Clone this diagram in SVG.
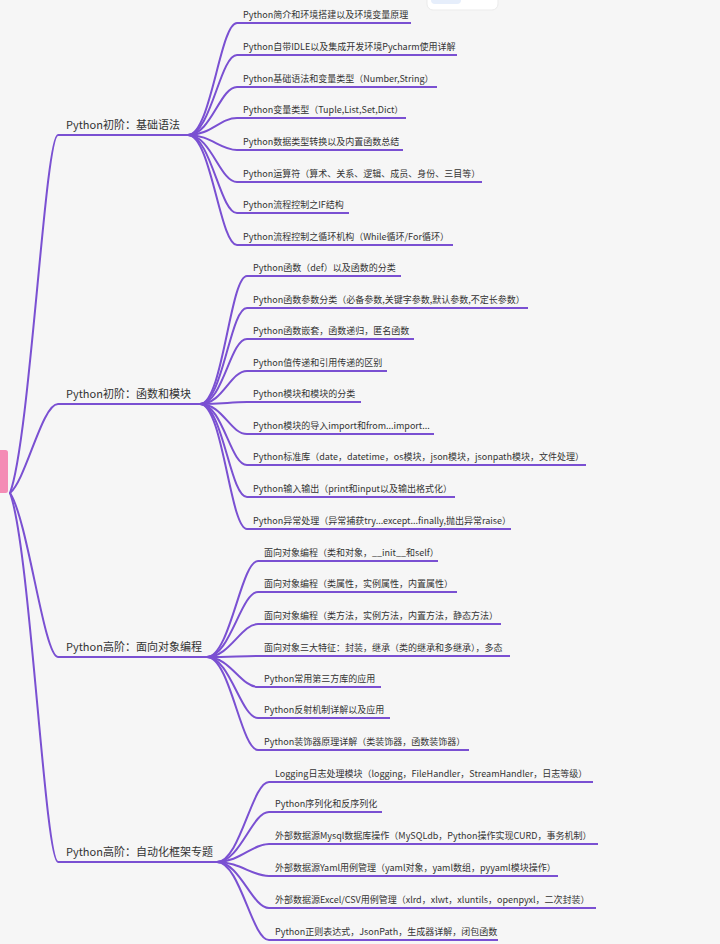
<svg xmlns="http://www.w3.org/2000/svg" width="720" height="944" viewBox="0 0 720 944">
<style>
.bg{fill:#f6f6f6}
.ln{fill:none;stroke:#7a50d2;stroke-width:2;stroke-linecap:round}
.ul{fill:none;stroke:#7a50d2;stroke-width:2}
.m{font-family:"Noto Sans CJK SC","Noto Sans",sans-serif;font-size:11px;fill:#333}
.c{font-family:"Noto Sans CJK SC","Noto Sans",sans-serif;font-size:9px;fill:#333}
</style>
<rect class="bg" x="0" y="0" width="720" height="944"/>
<g id="topcard">
<rect x="427" y="-8" width="71" height="18" rx="6" fill="#ffffff" stroke="#ebebeb"/>
<rect x="431" y="-6" width="30" height="10" rx="4" fill="#e6eefb"/>
</g>
<g id="connectors">
<path class="ln" d="M10,493 C30,440 45,135 58,135"/>
<path class="ln" d="M10,493 C26,480 42,404 58,404"/>
<path class="ln" d="M10,493 C28,520 44,657 58,657"/>
<path class="ln" d="M10,493 C30,546 45,862 58,862"/>
<path class="ln" d="M188,135 C211,135 220,23 237,23"/>
<path class="ln" d="M188,135 C211,135 220,55 237,55"/>
<path class="ln" d="M188,135 C211,135 220,87 237,87"/>
<path class="ln" d="M188,135 C211,135 220,118 237,118"/>
<path class="ln" d="M188,135 C211,135 220,150 237,150"/>
<path class="ln" d="M188,135 C211,135 220,182 237,182"/>
<path class="ln" d="M188,135 C211,135 220,213 237,213"/>
<path class="ln" d="M188,135 C211,135 220,245 237,245"/>
<path class="ln" d="M200,404 C223,404 230,276 247,276"/>
<path class="ln" d="M200,404 C223,404 230,308 247,308"/>
<path class="ln" d="M200,404 C223,404 230,339 247,339"/>
<path class="ln" d="M200,404 C223,404 230,371 247,371"/>
<path class="ln" d="M200,404 C223,404 230,402 247,402"/>
<path class="ln" d="M200,404 C223,404 230,434 247,434"/>
<path class="ln" d="M200,404 C223,404 230,465 247,465"/>
<path class="ln" d="M200,404 C223,404 230,497 247,497"/>
<path class="ln" d="M200,404 C223,404 230,529 247,529"/>
<path class="ln" d="M207,657 C230,657 241,561 258,561"/>
<path class="ln" d="M207,657 C230,657 241,592 258,592"/>
<path class="ln" d="M207,657 C230,657 241,624 258,624"/>
<path class="ln" d="M207,657 C230,657 241,656 258,656"/>
<path class="ln" d="M207,657 C230,657 241,687 258,687"/>
<path class="ln" d="M207,657 C230,657 241,718 258,718"/>
<path class="ln" d="M207,657 C230,657 241,750 258,750"/>
<path class="ln" d="M217,862 C240,862 252,782 269,782"/>
<path class="ln" d="M217,862 C240,862 252,812 269,812"/>
<path class="ln" d="M217,862 C240,862 252,844 269,844"/>
<path class="ln" d="M217,862 C240,862 252,876 269,876"/>
<path class="ln" d="M217,862 C240,862 252,908 269,908"/>
<path class="ln" d="M217,862 C240,862 252,940 269,940"/>
</g>
<g id="root">
<rect x="-4" y="450" width="12" height="43" rx="2.5" fill="#f48cb5"/>
</g>
<g id="main1"><path class="ul" d="M58,135 H188"/><text class="m" x="66" y="129">Python初阶：基础语法</text></g>
<g id="main2"><path class="ul" d="M58,404 H200"/><text class="m" x="66" y="398">Python初阶：函数和模块</text></g>
<g id="main3"><path class="ul" d="M58,657 H207"/><text class="m" x="66" y="651">Python高阶：面向对象编程</text></g>
<g id="main4"><path class="ul" d="M58,862 H217"/><text class="m" x="66" y="856">Python高阶：自动化框架专题</text></g>

<g id="n1-1"><path class="ul" d="M237,23 H411"/><text class="c" x="243" y="18">Python简介和环境搭建以及环境变量原理</text></g>
<g id="n1-2"><path class="ul" d="M237,55 H457"/><text class="c" x="243" y="50">Python自带IDLE以及集成开发环境Pycharm使用详解</text></g>
<g id="n1-3"><path class="ul" d="M237,87 H437"/><text class="c" x="243" y="82">Python基础语法和变量类型（Number,String）</text></g>
<g id="n1-4"><path class="ul" d="M237,118 H406"/><text class="c" x="243" y="113">Python变量类型（Tuple,List,Set,Dict）</text></g>
<g id="n1-5"><path class="ul" d="M237,150 H403"/><text class="c" x="243" y="145">Python数据类型转换以及内置函数总结</text></g>
<g id="n1-6"><path class="ul" d="M237,182 H482"/><text class="c" x="243" y="177">Python运算符（算术、关系、逻辑、成员、身份、三目等）</text></g>
<g id="n1-7"><path class="ul" d="M237,213 H349"/><text class="c" x="243" y="208">Python流程控制之IF结构</text></g>
<g id="n1-8"><path class="ul" d="M237,245 H453"/><text class="c" x="243" y="240">Python流程控制之循环机构（While循环/For循环）</text></g>

<g id="n2-1"><path class="ul" d="M247,276 H401"/><text class="c" x="253" y="271">Python函数（def）以及函数的分类</text></g>
<g id="n2-2"><path class="ul" d="M247,308 H528"/><text class="c" x="253" y="303">Python函数参数分类（必备参数,关键字参数,默认参数,不定长参数）</text></g>
<g id="n2-3"><path class="ul" d="M247,339 H414"/><text class="c" x="253" y="334">Python函数嵌套，函数递归，匿名函数</text></g>
<g id="n2-4"><path class="ul" d="M247,371 H387"/><text class="c" x="253" y="366">Python值传递和引用传递的区别</text></g>
<g id="n2-5"><path class="ul" d="M247,402 H361"/><text class="c" x="253" y="397">Python模块和模块的分类</text></g>
<g id="n2-6"><path class="ul" d="M247,434 H434"/><text class="c" x="253" y="429">Python模块的导入import和from...import...</text></g>
<g id="n2-7"><path class="ul" d="M247,465 H586"/><text class="c" x="253" y="460">Python标准库（date，datetime，os模块，json模块，jsonpath模块，文件处理）</text></g>
<g id="n2-8"><path class="ul" d="M247,497 H455"/><text class="c" x="253" y="492">Python输入输出（print和input以及输出格式化）</text></g>
<g id="n2-9"><path class="ul" d="M247,529 H511"/><text class="c" x="253" y="524">Python异常处理（异常捕获try...except...finally,抛出异常raise）</text></g>

<g id="n3-1"><path class="ul" d="M258,561 H438"/><text class="c" x="264" y="556">面向对象编程（类和对象，__init__和self）</text></g>
<g id="n3-2"><path class="ul" d="M258,592 H457"/><text class="c" x="264" y="587">面向对象编程（类属性，实例属性，内置属性）</text></g>
<g id="n3-3"><path class="ul" d="M258,624 H501"/><text class="c" x="264" y="619">面向对象编程（类方法，实例方法，内置方法，静态方法）</text></g>
<g id="n3-4"><path class="ul" d="M258,656 H510"/><text class="c" x="264" y="651">面向对象三大特征：封装，继承（类的继承和多继承），多态</text></g>
<g id="n3-5"><path class="ul" d="M258,687 H381"/><text class="c" x="264" y="682">Python常用第三方库的应用</text></g>
<g id="n3-6"><path class="ul" d="M258,718 H390"/><text class="c" x="264" y="713">Python反射机制详解以及应用</text></g>
<g id="n3-7"><path class="ul" d="M258,750 H469"/><text class="c" x="264" y="745">Python装饰器原理详解（类装饰器，函数装饰器）</text></g>

<g id="n4-1"><path class="ul" d="M269,782 H593"/><text class="c" x="275" y="777">Logging日志处理模块（logging，FileHandler，StreamHandler，日志等级）</text></g>
<g id="n4-2"><path class="ul" d="M269,812 H382"/><text class="c" x="275" y="807">Python序列化和反序列化</text></g>
<g id="n4-3"><path class="ul" d="M269,844 H598"/><text class="c" x="275" y="839">外部数据源Mysql数据库操作（MySQLdb，Python操作实现CURD，事务机制）</text></g>
<g id="n4-4"><path class="ul" d="M269,876 H558"/><text class="c" x="275" y="871">外部数据源Yaml用例管理（yaml对象，yaml数组，pyyaml模块操作）</text></g>
<g id="n4-5"><path class="ul" d="M269,908 H596"/><text class="c" x="275" y="903">外部数据源Excel/CSV用例管理（xlrd，xlwt，xluntils，openpyxl，二次封装）</text></g>
<g id="n4-6"><path class="ul" d="M269,940 H498"/><text class="c" x="275" y="935">Python正则表达式，JsonPath，生成器详解，闭包函数</text></g>
</svg>
